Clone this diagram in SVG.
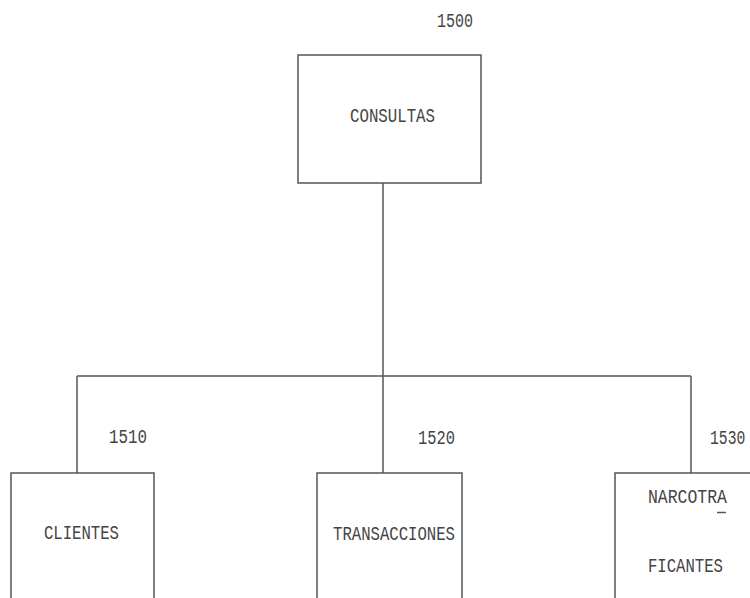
<svg xmlns="http://www.w3.org/2000/svg" width="750" height="598" viewBox="0 0 750 598">
<style>
.box{fill:none;stroke:#555;stroke-width:1.5}
.ln{fill:none;stroke:#555;stroke-width:1.5}
text{font-family:"Liberation Mono","DejaVu Sans Mono",monospace;font-size:21px;fill:#444}
</style>
<rect width="750" height="598" fill="#fff"/>
<g id="connectors">
<line class="ln" x1="383" y1="183" x2="383" y2="376"/>
<line class="ln" x1="77" y1="376" x2="691" y2="376"/>
<line class="ln" x1="77" y1="376" x2="77" y2="473"/>
<line class="ln" x1="383" y1="376" x2="383" y2="473"/>
<line class="ln" x1="691" y1="376" x2="691" y2="473"/>
</g>
<g id="n1500">
<text x="437" y="27" textLength="36" lengthAdjust="spacingAndGlyphs">1500</text>
<rect class="box" x="298" y="55" width="183" height="128"/>
<text x="350" y="122" textLength="85" lengthAdjust="spacingAndGlyphs">CONSULTAS</text>
</g>
<g id="n1510">
<text x="109" y="443" textLength="38" lengthAdjust="spacingAndGlyphs">1510</text>
<rect class="box" x="11" y="473" width="143" height="150"/>
<text x="44" y="539" textLength="75" lengthAdjust="spacingAndGlyphs">CLIENTES</text>
</g>
<g id="n1520">
<text x="418" y="444" textLength="37" lengthAdjust="spacingAndGlyphs">1520</text>
<rect class="box" x="317" y="473" width="145" height="150"/>
<text x="333" y="540" textLength="122" lengthAdjust="spacingAndGlyphs">TRANSACCIONES</text>
</g>
<g id="n1530">
<text transform="translate(710 444) scale(0.7 1)" x="0" y="0">1530</text>
<rect class="box" x="615" y="473" width="160" height="150"/>
<text x="648" y="503" textLength="79" lengthAdjust="spacingAndGlyphs">NARCOTRA</text>
<line class="ln" x1="717" y1="512.5" x2="726" y2="512.5"/>
<text x="648" y="572" textLength="75" lengthAdjust="spacingAndGlyphs">FICANTES</text>
</g>
</svg>
